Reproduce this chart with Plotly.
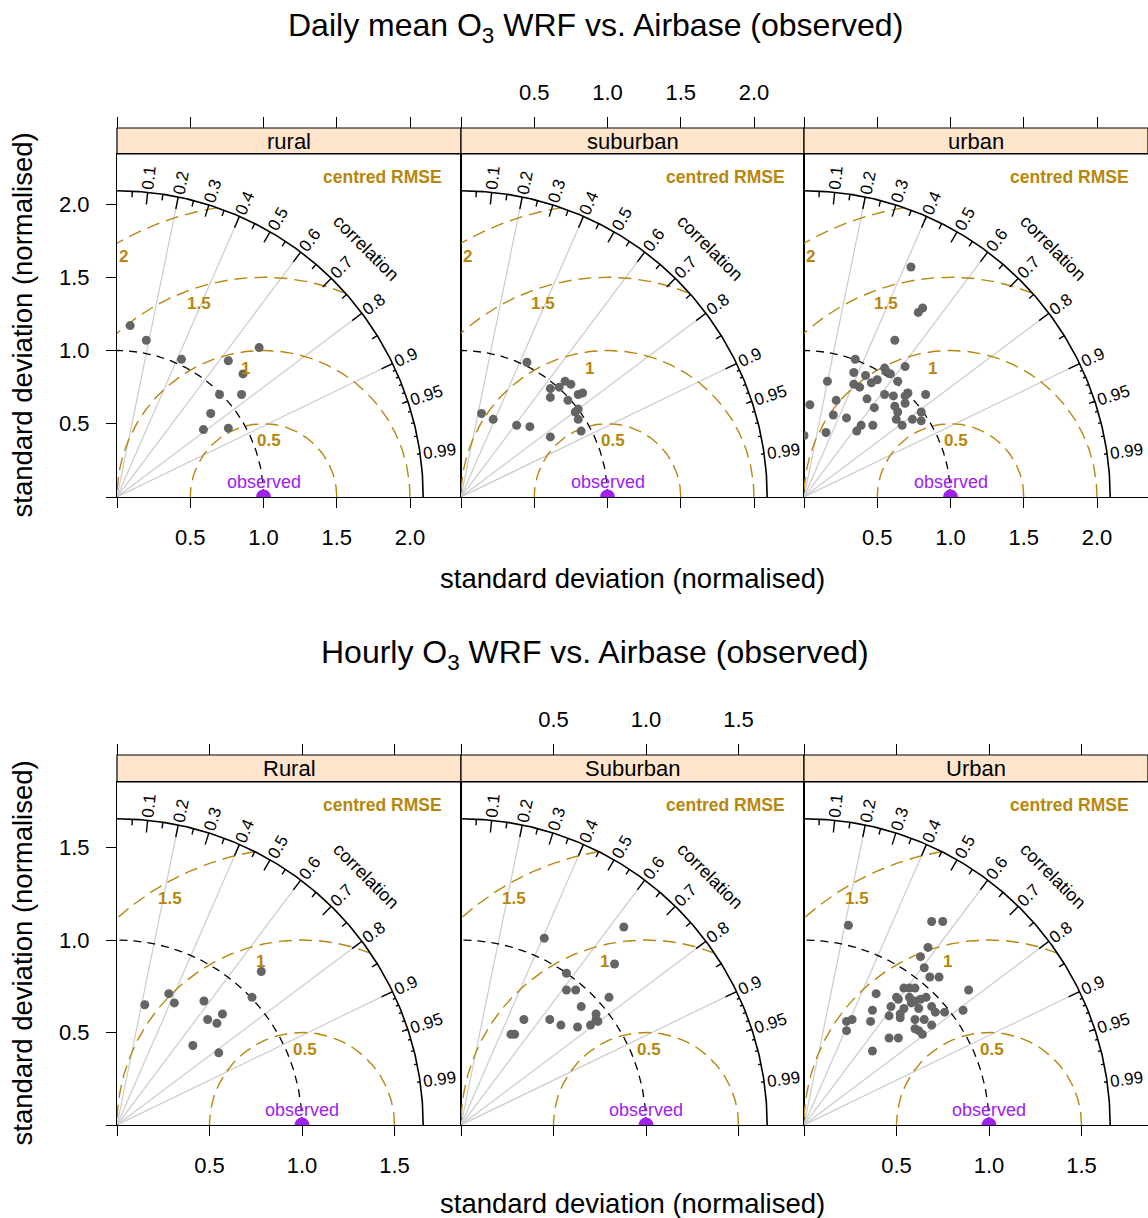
import numpy as np
import plotly.graph_objects as go

W, H = 1148, 1218
FONT = "Liberation Sans, Arial, Helvetica, sans-serif"
GOLD = "#B8860B"
PURPLE = "#A020F0"
PT_COL = "#646464"
STRIP_COL = "#FFE5CC"
GRID_COL = "#CBCBCB"

# ---------------- data (normalised sd components: x = sd*R, y = sd*sqrt(1-R^2)) -------------
daily_panels = ["rural", "suburban", "urban"]
hourly_panels = ["Rural", "Suburban", "Urban"]

daily_rural_x = [0.09, 0.20, 0.44, 0.97, 0.76, 0.86, 0.70, 0.85, 0.64, 0.59, 0.76]
daily_rural_y = [1.17, 1.07, 0.94, 1.02, 0.93, 0.84, 0.70, 0.70, 0.57, 0.46, 0.47]

daily_suburban_x = [0.45, 0.14, 0.22, 0.38, 0.47, 0.61, 0.82, 0.61, 0.61, 0.67, 0.71, 0.75,
                    0.73, 0.80, 0.83, 0.80, 0.78, 0.80]
daily_suburban_y = [0.92, 0.57, 0.53, 0.49, 0.48, 0.41, 0.45, 0.74, 0.68, 0.75, 0.79, 0.77,
                    0.66, 0.70, 0.71, 0.60, 0.58, 0.53]

daily_urban_x = [0.73, 0.78, 0.81, 0.62, 0.35, 0.34, 0.42, 0.55, 0.56, 0.59, 0.50, 0.46, 0.69,
                 0.16, 0.34, 0.38, 0.64, 0.71, 0.69, 0.83, 0.55, 0.61, 0.43, 0.22, 0.04, 0.69,
                 0.48, 0.62, 0.64, 0.63, 0.80, 0.20, 0.29, 0.74, 0.80, 0.67, 0.47, 0.39, 0.36,
                 0.15, 0.00]
daily_urban_y = [1.57, 1.26, 1.29, 1.07, 0.94, 0.85, 0.83, 0.88, 0.86, 0.84, 0.80, 0.78, 0.89,
                 0.79, 0.77, 0.75, 0.79, 0.71, 0.69, 0.70, 0.70, 0.69, 0.67, 0.66, 0.63, 0.64,
                 0.61, 0.62, 0.58, 0.53, 0.58, 0.56, 0.54, 0.53, 0.52, 0.49, 0.49, 0.49, 0.45,
                 0.44, 0.42]

hourly_rural_x = [0.15, 0.28, 0.31, 0.47, 0.78, 0.73, 0.49, 0.54, 0.57, 0.41, 0.55]
hourly_rural_y = [0.65, 0.71, 0.66, 0.67, 0.83, 0.69, 0.57, 0.55, 0.60, 0.43, 0.39]

hourly_suburban_x = [0.45, 0.88, 0.83, 0.57, 0.57, 0.62, 0.80, 0.65, 0.34, 0.48, 0.54, 0.63,
                     0.70, 0.73, 0.74, 0.73, 0.27, 0.29]
hourly_suburban_y = [1.01, 1.07, 0.87, 0.82, 0.73, 0.73, 0.69, 0.64, 0.57, 0.57, 0.54, 0.53,
                     0.54, 0.57, 0.56, 0.60, 0.49, 0.49]

hourly_urban_x = [0.24, 0.69, 0.75, 0.67, 0.63, 0.65, 0.68, 0.73, 0.89, 0.39, 0.54, 0.57, 0.60,
                  0.50, 0.51, 0.57, 0.63, 0.66, 0.58, 0.60, 0.47, 0.54, 0.37, 0.62, 0.69, 0.71,
                  0.76, 0.86, 0.46, 0.52, 0.52, 0.23, 0.26, 0.36, 0.60, 0.65, 0.23, 0.60, 0.62,
                  0.64, 0.69, 0.46, 0.51, 0.37]
hourly_urban_y = [1.08, 1.10, 1.10, 0.96, 0.91, 0.85, 0.80, 0.80, 0.73, 0.71, 0.74, 0.74, 0.74,
                  0.69, 0.68, 0.69, 0.68, 0.69, 0.66, 0.67, 0.64, 0.63, 0.62, 0.63, 0.64, 0.61,
                  0.61, 0.62, 0.59, 0.60, 0.58, 0.56, 0.57, 0.56, 0.57, 0.57, 0.51, 0.52, 0.51,
                  0.49, 0.54, 0.47, 0.47, 0.40]

observed_sd = 1.0
corr_grid = [0.2, 0.4, 0.6, 0.8, 0.9]
corr_labels = [0.1, 0.2, 0.3, 0.4, 0.5, 0.6, 0.7, 0.8, 0.9, 0.95, 0.99]

daily_ticks = [0, 0.5, 1.0, 1.5, 2.0]
daily_ticktext = ["", "0.5", "1.0", "1.5", "2.0"]
hourly_ticks = [0, 0.5, 1.0, 1.5]
hourly_ticktext = ["", "0.5", "1.0", "1.5"]

daily_rmse = [0.5, 1, 1.5, 2]
hourly_rmse = [0.5, 1, 1.5]

# ---------------- layout geometry (pixels) ----------------
PX = [117, 461, 804, 1148]

charts = [
    dict(title="Daily mean O<sub>3</sub> WRF vs. Airbase (observed)", title_y=27,
         panel=(154, 497), strip=(128, 154), scale=146.5, maxsd=2.09,
         ticks=daily_ticks, ticktext=daily_ticktext, rmse=daily_rmse,
         rmse_ang=[86, 97, 107, 118.5], names=daily_panels,
         data=[(daily_rural_x, daily_rural_y), (daily_suburban_x, daily_suburban_y),
               (daily_urban_x, daily_urban_y)],
         xtitle_y=578),
    dict(title="Hourly O<sub>3</sub> WRF vs. Airbase (observed)", title_y=654,
         panel=(782, 1125), strip=(755, 782), scale=185.0, maxsd=1.655,
         ticks=hourly_ticks, ticktext=hourly_ticktext, rmse=hourly_rmse,
         rmse_ang=[88, 103, 118.5], names=hourly_panels,
         data=[(hourly_rural_x, hourly_rural_y), (hourly_suburban_x, hourly_suburban_y),
               (hourly_urban_x, hourly_urban_y)],
         xtitle_y=1203),
]


def fx(px):
    return px / W


def fy(py):
    return 1 - py / H


def text_em(s):
    w = 0.0
    for ch in s:
        w += 0.278 if ch == "." else 0.556
    return w


fig = go.Figure()
annotations = []
shapes = []
layout = {}

for c, ch in enumerate(charts):
    ptop, pbot = ch["panel"]
    stop, sbot = ch["strip"]
    sc = ch["scale"]
    R = ch["maxsd"]
    for j in range(3):
        k = c * 3 + j + 1
        xs = "" if k == 1 else str(k)
        xr = (PX[j + 1] - PX[j]) / sc
        yr = (pbot - ptop) / sc
        xa, ya = "x" + xs, "y" + xs

        # correlation grid lines
        gx, gy = [], []
        for r in corr_grid:
            gx += [0, R * r, None]
            gy += [0, R * np.sqrt(1 - r * r), None]
        fig.add_trace(go.Scatter(x=gx, y=gy, mode="lines", xaxis=xa, yaxis=ya,
                                 line=dict(color=GRID_COL, width=1.2), hoverinfo="skip"))

        # centred RMSE arcs
        for g in ch["rmse"]:
            if g <= R - observed_sd:
                a0 = 0.0
            else:
                xi = (R * R - g * g + observed_sd ** 2) / (2 * observed_sd)
                a0 = np.arccos((xi - observed_sd) / g)
            a1 = np.pi if g <= observed_sd else np.arccos(-observed_sd / g)
            th = np.linspace(a0, a1, 200)
            fig.add_trace(go.Scatter(x=observed_sd + g * np.cos(th), y=g * np.sin(th),
                                     mode="lines", xaxis=xa, yaxis=ya,
                                     line=dict(color=GOLD, width=1.4, dash="13px,7px"),
                                     hoverinfo="skip"))

        # observed sd arc
        th = np.linspace(0, np.pi / 2, 200)
        fig.add_trace(go.Scatter(x=observed_sd * np.cos(th), y=observed_sd * np.sin(th),
                                 mode="lines", xaxis=xa, yaxis=ya,
                                 line=dict(color="black", width=1.3, dash="8px,6px"),
                                 hoverinfo="skip"))
        # outer arc
        fig.add_trace(go.Scatter(x=R * np.cos(th), y=R * np.sin(th), mode="lines",
                                 xaxis=xa, yaxis=ya, line=dict(color="black", width=1.6),
                                 hoverinfo="skip"))
        # arc ticks
        tx, ty = [], []
        for vals, f in ((np.arange(1, 10) / 10, 0.96), (np.arange(0.05, 0.96, 0.1), 0.98),
                        (np.arange(91, 100) / 100, 0.99)):
            for r in vals:
                a = np.arccos(r)
                tx += [R * np.cos(a), f * R * np.cos(a), None]
                ty += [R * np.sin(a), f * R * np.sin(a), None]
        fig.add_trace(go.Scatter(x=tx, y=ty, mode="lines", xaxis=xa, yaxis=ya,
                                 line=dict(color="black", width=1.4), hoverinfo="skip"))

        # data points
        px_, py_ = ch["data"][j]
        fig.add_trace(go.Scatter(x=px_, y=py_, mode="markers", xaxis=xa, yaxis=ya,
                                 marker=dict(color=PT_COL, size=9, line=dict(width=0))))
        # observed point
        fig.add_trace(go.Scatter(x=[observed_sd], y=[0], mode="markers", xaxis=xa, yaxis=ya,
                                 marker=dict(color=PURPLE, size=15, line=dict(width=0))))

        # axes
        layout["xaxis" + xs] = dict(
            domain=[fx(PX[j]), fx(PX[j + 1])], range=[0, xr], anchor=ya,
            showline=True, mirror=True, linecolor="black", linewidth=1.2,
            ticks="outside", ticklen=10, tickwidth=1.1, tickcolor="black",
            tickvals=ch["ticks"], ticktext=ch["ticktext"], showticklabels=(j != 1),
            tickfont=dict(size=22, color="black", family=FONT), ticklabelstandoff=10,
            showgrid=False, zeroline=False, fixedrange=True)
        layout["yaxis" + xs] = dict(
            domain=[fy(pbot), fy(ptop)], range=[0, yr], anchor=xa,
            showline=True, mirror=True, linecolor="black", linewidth=1.2,
            ticks="outside" if j == 0 else "", ticklen=10, tickwidth=1.1, tickcolor="black",
            tickvals=ch["ticks"], ticktext=ch["ticktext"], showticklabels=(j == 0),
            tickfont=dict(size=22, color="black", family=FONT), ticklabelstandoff=12,
            showgrid=False, zeroline=False, fixedrange=True)
        # top axis above strip
        kt = 6 + k
        layout["xaxis" + str(kt)] = dict(
            overlaying=xa, side="top", anchor="free", position=fy(stop),
            range=[0, xr], showline=False, ticks="outside", ticklen=11, tickwidth=1.1,
            tickcolor="black", tickvals=ch["ticks"], ticktext=ch["ticktext"],
            showticklabels=(j == 1), tickfont=dict(size=22, color="black", family=FONT),
            ticklabelstandoff=8, showgrid=False, zeroline=False, fixedrange=True)
        fig.add_trace(go.Scatter(x=[None], y=[None], xaxis="x" + str(kt), yaxis=ya,
                                 mode="markers", hoverinfo="skip"))

        # strip
        shapes.append(dict(type="rect", xref="paper", yref="paper",
                           x0=fx(PX[j]), x1=fx(PX[j + 1]), y0=fy(sbot), y1=fy(stop),
                           fillcolor=STRIP_COL, line=dict(color="black", width=1.2),
                           layer="below"))
        annotations.append(dict(text=ch["names"][j], xref="paper", yref="paper",
                                x=fx((PX[j] + PX[j + 1]) / 2), y=fy((stop + sbot) / 2),
                                showarrow=False, font=dict(size=22, color="black", family=FONT),
                                xanchor="center", yanchor="middle"))

        # correlation labels
        for r in corr_labels:
            s = f"{r:g}"
            a = np.arccos(r)
            hw = 0.5 * text_em(s) * 17
            rad = R + (3 + hw) / sc
            annotations.append(dict(text=s, xref=xa, yref=ya, x=rad * np.cos(a),
                                    y=rad * np.sin(a), showarrow=False,
                                    textangle=-np.degrees(a), xanchor="center",
                                    yanchor="middle",
                                    font=dict(size=17, color="black", family=FONT)))
        annotations.append(dict(text="correlation", xref=xa, yref=ya,
                                x=1.15 * R * np.cos(np.pi / 4), y=1.15 * R * np.sin(np.pi / 4),
                                showarrow=False, textangle=45, xanchor="center",
                                yanchor="middle", font=dict(size=18, color="black", family=FONT)))
        annotations.append(dict(text="<b>centred RMSE</b>", xref=xa + " domain",
                                yref=ya + " domain", x=0.951, y=0.933, showarrow=False,
                                xanchor="right", yanchor="middle",
                                font=dict(size=17.5, color=GOLD, family=FONT)))
        for g, ang in zip(ch["rmse"], ch["rmse_ang"]):
            a = np.radians(ang)
            annotations.append(dict(text=f"<b>{g:g}</b>", xref=xa, yref=ya,
                                    x=observed_sd + g * np.cos(a), y=g * np.sin(a), yshift=-17,
                                    showarrow=False, xanchor="center", yanchor="middle",
                                    font=dict(size=17, color=GOLD, family=FONT)))
        annotations.append(dict(text="observed", xref=xa, yref=ya, x=observed_sd, y=0,
                                yshift=15, showarrow=False, xanchor="center", yanchor="middle",
                                font=dict(size=18, color=PURPLE, family=FONT)))

    # titles
    annotations.append(dict(text=ch["title"], xref="paper", yref="paper", x=fx(595),
                            y=fy(ch["title_y"]), showarrow=False, xanchor="center",
                            yanchor="middle", font=dict(size=32, color="black", family=FONT)))
    annotations.append(dict(text="standard deviation (normalised)", xref="paper", yref="paper",
                            x=fx(632.5), y=fy(ch["xtitle_y"]), showarrow=False,
                            xanchor="center", yanchor="middle",
                            font=dict(size=27.5, color="black", family=FONT)))
    annotations.append(dict(text="standard deviation (normalised)", xref="paper", yref="paper",
                            x=fx(22), y=fy((ptop + pbot) / 2), showarrow=False, textangle=-90,
                            xanchor="center", yanchor="middle",
                            font=dict(size=27.5, color="black", family=FONT)))

fig.update_layout(width=W, height=H, autosize=False, margin=dict(l=0, r=0, t=0, b=0),
                  paper_bgcolor="white", plot_bgcolor="white", showlegend=False,
                  font=dict(family=FONT, color="black"), annotations=annotations,
                  shapes=shapes, **layout)
fig.write_html("out.html", config={"displayModeBar": False},
               post_script="document.body.style.margin='0px';"
                           "document.body.style.padding='0px';"
                           "document.body.style.overflow='hidden';")
